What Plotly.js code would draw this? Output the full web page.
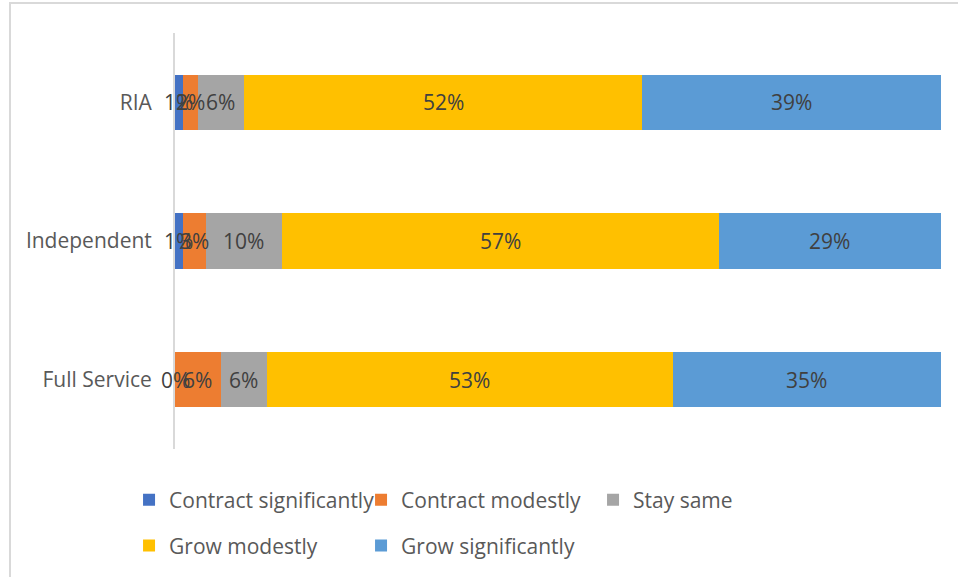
<!DOCTYPE html>
<html>
<head>
<meta charset="utf-8">
<script src="https://cdn.plot.ly/plotly-3.0.1.min.js"></script>
<style>
  html, body { margin: 0; padding: 0; background: #ffffff; overflow: hidden; }
  #chart { width: 958px; height: 577px; }
  #frame { position: absolute; left: 9px; top: 2px; width: 1000px; height: 1000px;
           border-left: 2px solid #d9d9d9; border-top: 2px solid #d9d9d9; pointer-events: none; }
</style>
</head>
<body>
<div id="chart"></div>
<div id="frame"></div>
<script>
// Categories, top to bottom
const categories = ["RIA", "Independent", "Full Service"];
const seriesNames = ["Contract significantly", "Contract modestly", "Stay same", "Grow modestly", "Grow significantly"];
const contractSignificantly = [1, 1, 0];
const contractModestly = [2, 3, 6];
const staySame = [6, 10, 6];
const growModestly = [52, 57, 53];
const growSignificantly = [39, 29, 35];

const seriesValues = [contractSignificantly, contractModestly, staySame, growModestly, growSignificantly];
const colors = ["#4472C4", "#ED7D31", "#A5A5A5", "#FFC000", "#5B9BD5"];
const legendFor = ["legend", "legend", "legend", "legend2", "legend2"];

const FONT = "Open Sans, Noto Sans, sans-serif";

const traces = seriesValues.map((vals, i) => ({
  type: "bar",
  orientation: "h",
  name: seriesNames[i],
  y: categories,
  x: vals,
  marker: { color: colors[i], line: { width: 0 } },
  legend: legendFor[i],
  hoverinfo: "x+name"
}));

// Data labels centred in each segment, positioned through the data axes
const annotations = [];
const cum = categories.map(() => 0);
seriesValues.forEach((vals) => {
  vals.forEach((v, j) => {
    annotations.push({
      x: cum[j] + v / 2, y: categories[j], xref: "x", yref: "y",
      text: v + "%", showarrow: false,
      font: { family: FONT, size: 21, color: "#404040" },
      xanchor: "center", yanchor: "middle"
    });
    cum[j] += v;
  });
});

const layout = {
  width: 958, height: 577,
  barmode: "stack",
  bargap: 0.6,
  paper_bgcolor: "#ffffff",
  plot_bgcolor: "#ffffff",
  margin: { l: 175, r: 17, t: 33, b: 127, pad: 0 },
  font: { family: FONT, size: 21, color: "#595959" },
  xaxis: { range: [0, 100], visible: false, fixedrange: true },
  yaxis: {
    type: "category", autorange: "reversed",
    showline: true, linecolor: "#d9d9d9", linewidth: 2,
    showgrid: false, zeroline: false, ticks: "",
    ticklabelstandoff: 17,
    tickfont: { family: FONT, size: 21, color: "#595959" }
  },
  showlegend: true,
  legend: {
    orientation: "h", x: -0.06, xanchor: "left", y: -0.12, yanchor: "middle",
    entrywidth: 187, entrywidthmode: "pixels",
    font: { family: FONT, size: 21, color: "#595959" },
    traceorder: "normal", bgcolor: "rgba(0,0,0,0)"
  },
  legend2: {
    orientation: "h", x: -0.06, xanchor: "left", y: -0.23, yanchor: "middle",
    entrywidth: 187, entrywidthmode: "pixels",
    font: { family: FONT, size: 21, color: "#595959" },
    traceorder: "normal", bgcolor: "rgba(0,0,0,0)"
  },
  annotations: annotations
};

Plotly.newPlot("chart", traces, layout, { displayModeBar: false, staticPlot: true });
</script>
</body>
</html>
